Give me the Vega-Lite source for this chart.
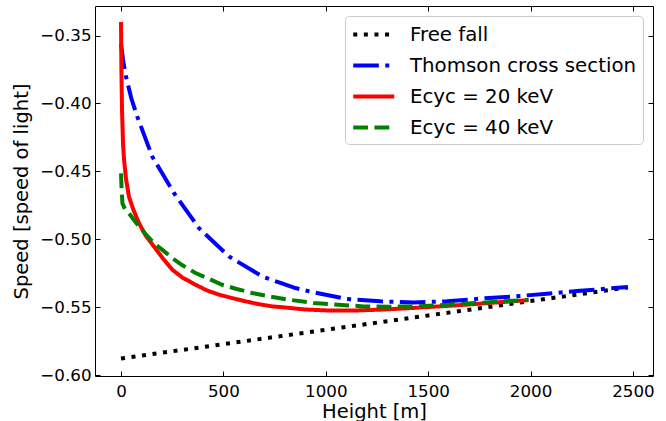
{
  "$schema": "https://vega.github.io/schema/vega-lite/v6.json",
  "autosize": "none",
  "width": 558,
  "height": 370,
  "padding": {"left": 95, "top": 6, "right": 13, "bottom": 45},
  "background": "white",
  "config": {
    "font": "DejaVu Sans",
    "view": {"stroke": "#000000", "strokeWidth": 1},
    "axis": {
      "grid": false,
      "domain": false,
      "ticks": true,
      "tickColor": "#000000",
      "tickSize": -5,
      "tickWidth": 1,
      "labelFont": "DejaVu Sans",
      "labelFontSize": 16.7,
      "labelColor": "#000000",
      "titleFont": "DejaVu Sans",
      "titleFontSize": 19.5,
      "titleFontWeight": "normal",
      "titleColor": "#000000"
    },
    "legend": {
      "labelFont": "DejaVu Sans",
      "labelFontSize": 19.8,
      "labelColor": "#000000",
      "labelLimit": 400
    }
  },
  "data": {
    "values": [
      {"h": 0, "v": -0.5875, "s": "Free fall"},
      {"h": 500, "v": -0.5770, "s": "Free fall"},
      {"h": 1000, "v": -0.5664, "s": "Free fall"},
      {"h": 1500, "v": -0.5559, "s": "Free fall"},
      {"h": 2000, "v": -0.5453, "s": "Free fall"},
      {"h": 2475, "v": -0.5353, "s": "Free fall"},

      {"h": 0, "v": -0.356, "s": "Thomson cross section"},
      {"h": 10, "v": -0.368, "s": "Thomson cross section"},
      {"h": 23, "v": -0.3793, "s": "Thomson cross section"},
      {"h": 50, "v": -0.396, "s": "Thomson cross section"},
      {"h": 80, "v": -0.4099, "s": "Thomson cross section"},
      {"h": 153, "v": -0.4392, "s": "Thomson cross section"},
      {"h": 259, "v": -0.4660, "s": "Thomson cross section"},
      {"h": 381, "v": -0.4917, "s": "Thomson cross section"},
      {"h": 527, "v": -0.5125, "s": "Thomson cross section"},
      {"h": 690, "v": -0.5272, "s": "Thomson cross section"},
      {"h": 779, "v": -0.5320, "s": "Thomson cross section"},
      {"h": 852, "v": -0.5357, "s": "Thomson cross section"},
      {"h": 941, "v": -0.5389, "s": "Thomson cross section"},
      {"h": 1104, "v": -0.5438, "s": "Thomson cross section"},
      {"h": 1267, "v": -0.5455, "s": "Thomson cross section"},
      {"h": 1429, "v": -0.5463, "s": "Thomson cross section"},
      {"h": 1592, "v": -0.5455, "s": "Thomson cross section"},
      {"h": 1755, "v": -0.5435, "s": "Thomson cross section"},
      {"h": 1917, "v": -0.5419, "s": "Thomson cross section"},
      {"h": 2080, "v": -0.5399, "s": "Thomson cross section"},
      {"h": 2242, "v": -0.5377, "s": "Thomson cross section"},
      {"h": 2475, "v": -0.5350, "s": "Thomson cross section"},

      {"h": 0, "v": -0.340, "s": "Ecyc = 20 keV"},
      {"h": 2, "v": -0.375, "s": "Ecyc = 20 keV"},
      {"h": 5, "v": -0.405, "s": "Ecyc = 20 keV"},
      {"h": 10, "v": -0.430, "s": "Ecyc = 20 keV"},
      {"h": 15, "v": -0.4416, "s": "Ecyc = 20 keV"},
      {"h": 25, "v": -0.456, "s": "Ecyc = 20 keV"},
      {"h": 39, "v": -0.4686, "s": "Ecyc = 20 keV"},
      {"h": 60, "v": -0.478, "s": "Ecyc = 20 keV"},
      {"h": 88, "v": -0.4880, "s": "Ecyc = 20 keV"},
      {"h": 120, "v": -0.497, "s": "Ecyc = 20 keV"},
      {"h": 161, "v": -0.5052, "s": "Ecyc = 20 keV"},
      {"h": 205, "v": -0.514, "s": "Ecyc = 20 keV"},
      {"h": 251, "v": -0.5223, "s": "Ecyc = 20 keV"},
      {"h": 300, "v": -0.528, "s": "Ecyc = 20 keV"},
      {"h": 364, "v": -0.5333, "s": "Ecyc = 20 keV"},
      {"h": 420, "v": -0.5375, "s": "Ecyc = 20 keV"},
      {"h": 478, "v": -0.5406, "s": "Ecyc = 20 keV"},
      {"h": 540, "v": -0.5430, "s": "Ecyc = 20 keV"},
      {"h": 608, "v": -0.5455, "s": "Ecyc = 20 keV"},
      {"h": 670, "v": -0.5475, "s": "Ecyc = 20 keV"},
      {"h": 738, "v": -0.5492, "s": "Ecyc = 20 keV"},
      {"h": 800, "v": -0.5500, "s": "Ecyc = 20 keV"},
      {"h": 900, "v": -0.5515, "s": "Ecyc = 20 keV"},
      {"h": 1023, "v": -0.5523, "s": "Ecyc = 20 keV"},
      {"h": 1150, "v": -0.5522, "s": "Ecyc = 20 keV"},
      {"h": 1267, "v": -0.5516, "s": "Ecyc = 20 keV"},
      {"h": 1400, "v": -0.5506, "s": "Ecyc = 20 keV"},
      {"h": 1511, "v": -0.5496, "s": "Ecyc = 20 keV"},
      {"h": 1630, "v": -0.5485, "s": "Ecyc = 20 keV"},
      {"h": 1755, "v": -0.5472, "s": "Ecyc = 20 keV"},
      {"h": 1870, "v": -0.5459, "s": "Ecyc = 20 keV"},
      {"h": 1990, "v": -0.5446, "s": "Ecyc = 20 keV"},

      {"h": 0, "v": -0.4514, "s": "Ecyc = 40 keV"},
      {"h": 3, "v": -0.463, "s": "Ecyc = 40 keV"},
      {"h": 7, "v": -0.4734, "s": "Ecyc = 40 keV"},
      {"h": 20, "v": -0.478, "s": "Ecyc = 40 keV"},
      {"h": 39, "v": -0.4807, "s": "Ecyc = 40 keV"},
      {"h": 60, "v": -0.485, "s": "Ecyc = 40 keV"},
      {"h": 88, "v": -0.4905, "s": "Ecyc = 40 keV"},
      {"h": 120, "v": -0.496, "s": "Ecyc = 40 keV"},
      {"h": 161, "v": -0.5027, "s": "Ecyc = 40 keV"},
      {"h": 205, "v": -0.508, "s": "Ecyc = 40 keV"},
      {"h": 251, "v": -0.5137, "s": "Ecyc = 40 keV"},
      {"h": 300, "v": -0.519, "s": "Ecyc = 40 keV"},
      {"h": 364, "v": -0.5247, "s": "Ecyc = 40 keV"},
      {"h": 430, "v": -0.529, "s": "Ecyc = 40 keV"},
      {"h": 494, "v": -0.5333, "s": "Ecyc = 40 keV"},
      {"h": 560, "v": -0.5362, "s": "Ecyc = 40 keV"},
      {"h": 641, "v": -0.5394, "s": "Ecyc = 40 keV"},
      {"h": 730, "v": -0.5420, "s": "Ecyc = 40 keV"},
      {"h": 820, "v": -0.5443, "s": "Ecyc = 40 keV"},
      {"h": 941, "v": -0.5467, "s": "Ecyc = 40 keV"},
      {"h": 1060, "v": -0.5480, "s": "Ecyc = 40 keV"},
      {"h": 1185, "v": -0.5492, "s": "Ecyc = 40 keV"},
      {"h": 1300, "v": -0.5495, "s": "Ecyc = 40 keV"},
      {"h": 1429, "v": -0.5492, "s": "Ecyc = 40 keV"},
      {"h": 1550, "v": -0.5484, "s": "Ecyc = 40 keV"},
      {"h": 1673, "v": -0.5472, "s": "Ecyc = 40 keV"},
      {"h": 1800, "v": -0.5462, "s": "Ecyc = 40 keV"},
      {"h": 1917, "v": -0.5450, "s": "Ecyc = 40 keV"},
      {"h": 1990, "v": -0.5444, "s": "Ecyc = 40 keV"}
    ]
  },
  "layer": [
    {
      "mark": {"type": "line", "strokeWidth": 4, "strokeCap": "butt", "clip": true},
      "encoding": {
        "x": {
          "field": "h", "type": "quantitative",
          "scale": {"domain": [-127, 2598], "nice": false, "zero": false},
          "axis": {"orient": "bottom", "values": [0, 500, 1000, 1500, 2000, 2500], "format": "d", "title": "Height [m]", "labelPadding": 12, "titlePadding": 3}
        },
        "y": {
          "field": "v", "type": "quantitative",
          "scale": {"domain": [-0.6004, -0.3283], "nice": false, "zero": false},
          "axis": {"orient": "left", "values": [-0.6, -0.55, -0.5, -0.45, -0.4, -0.35], "format": ".2f", "title": "Speed [speed of light]", "labelPadding": 9, "titlePadding": 8}
        },
        "color": {
          "field": "s", "type": "nominal", "sort": null,
          "scale": {
            "domain": ["Free fall", "Thomson cross section", "Ecyc = 20 keV", "Ecyc = 40 keV"],
            "range": ["#000000", "#0000ff", "#ff0000", "#008000"]
          },
          "legend": {
            "title": null,
            "orient": "top-right",
            "offset": 10,
            "symbolType": "M-1,0H3",
            "symbolSize": 420,
            "symbolStrokeWidth": 4,
            "symbolFillColor": "transparent",
            "strokeColor": "#cccccc",
            "cornerRadius": 4,
            "fillColor": "rgba(255,255,255,0.8)",
            "padding": 6,
            "rowPadding": 8,
            "labelOffset": 34
          }
        },
        "strokeDash": {
          "field": "s", "type": "nominal", "sort": null,
          "scale": {
            "domain": ["Free fall", "Thomson cross section", "Ecyc = 20 keV", "Ecyc = 40 keV"],
            "range": [[4, 6.6], [25.6, 6.4, 4, 6.4], [1, 0], [14.8, 6.4]]
          },
          "legend": {
            "title": null,
            "orient": "top-right",
            "offset": 10,
            "symbolType": "M-1,0H3",
            "symbolSize": 420,
            "symbolStrokeWidth": 4,
            "symbolFillColor": "transparent",
            "strokeColor": "#cccccc",
            "cornerRadius": 4,
            "fillColor": "rgba(255,255,255,0.8)",
            "padding": 6,
            "rowPadding": 8,
            "labelOffset": 34
          }
        }
      }
    },
    {
      "mark": {"type": "line", "strokeOpacity": 0, "clip": true},
      "encoding": {
        "x": {
          "field": "h", "type": "quantitative",
          "axis": {"orient": "top", "values": [0, 500, 1000, 1500, 2000, 2500], "labels": false, "title": null}
        },
        "y": {
          "field": "v", "type": "quantitative",
          "axis": {"orient": "right", "values": [-0.6, -0.55, -0.5, -0.45, -0.4, -0.35], "labels": false, "title": null}
        },
        "detail": {"field": "s", "type": "nominal"}
      }
    }
  ]
}
